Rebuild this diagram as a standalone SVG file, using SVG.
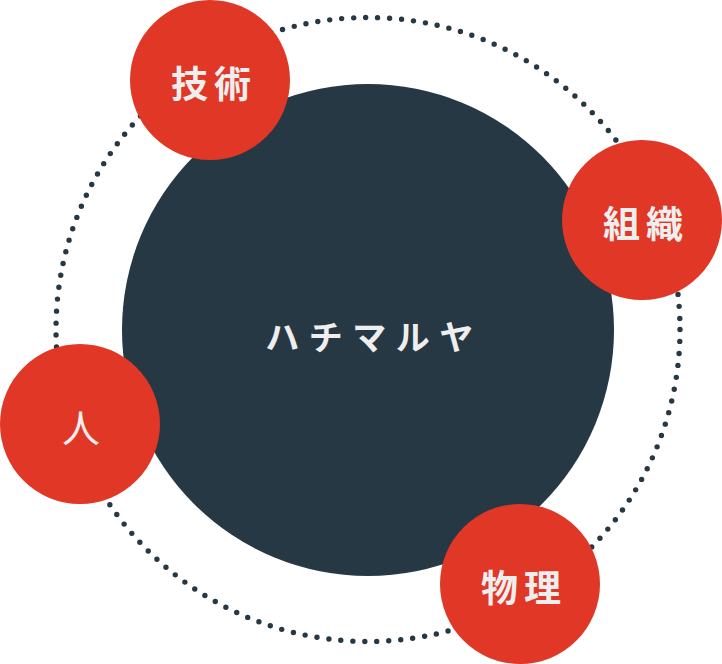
<svg xmlns="http://www.w3.org/2000/svg" width="722" height="664" viewBox="0 0 722 664">
<style>
.dots{fill:none;stroke:#263844;stroke-width:5.4;stroke-linecap:round;stroke-dasharray:0 12.027}
.core{fill:#263844}
.node{fill:#e03726}
.lbl{font-family:"Noto Sans CJK JP","Noto Sans CJK SC",sans-serif;fill:#eeeeee;text-anchor:middle;dominant-baseline:central}
.b{font-size:37px;font-weight:700;letter-spacing:6px}
.r{font-size:38px;font-weight:400}
.c{font-size:34px;font-weight:700;letter-spacing:9.5px}
</style>
<g id="connectors">
<circle class="dots" cx="368" cy="329.5" r="312"/>
</g>
<g id="center">
<circle class="core" cx="368" cy="330" r="246"/>
<text class="lbl c" x="374" y="335">ハチマルヤ</text>
</g>
<g id="gijutsu">
<circle class="node" cx="210" cy="80" r="80"/>
<text class="lbl b" x="214" y="82">技術</text>
</g>
<g id="soshiki">
<circle class="node" cx="642" cy="220" r="80"/>
<text class="lbl b" x="646" y="222">組織</text>
</g>
<g id="hito">
<circle class="node" cx="80" cy="424" r="80"/>
<text class="lbl r" x="81" y="425">人</text>
</g>
<g id="butsuri">
<circle class="node" cx="520" cy="584" r="80"/>
<text class="lbl b" x="524" y="586">物理</text>
</g>
</svg>
